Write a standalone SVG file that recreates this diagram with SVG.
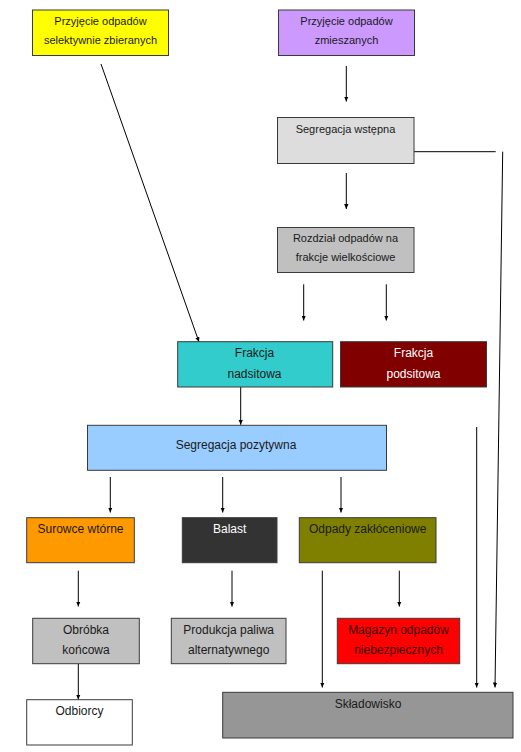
<svg xmlns="http://www.w3.org/2000/svg" width="521" height="752" viewBox="0 0 521 752">
<style>
.box{stroke:#3a3a3a;stroke-width:1}
text{font-family:"Liberation Sans",Arial,sans-serif;font-size:12px;fill:#1a1a1a;text-anchor:middle}
.s{font-size:11px}
.w{fill:#ffffff}
.dr{fill:#3a0000}
.c{stroke:#000;stroke-width:1;fill:none}
.a{marker-end:url(#ah)}
</style>
<defs>
<marker id="ah" markerUnits="userSpaceOnUse" markerWidth="5" markerHeight="5" viewBox="0 0 5 5" refX="5" refY="2.5" orient="auto">
<path d="M0,0.3 L5,2.5 L0,4.7 z" fill="#000"/>
</marker>
</defs>
<rect width="521" height="752" fill="#ffffff"/>
<g id="connectors">
<line class="c a" x1="346.3" y1="66" x2="346.3" y2="101.5"/>
<line class="c a" x1="346.3" y1="173" x2="346.3" y2="209"/>
<line class="c" x1="414" y1="151.7" x2="495.7" y2="151.7"/>
<line class="c a" x1="502.7" y1="151.7" x2="495" y2="687.5"/>
<line class="c a" x1="303.7" y1="284.3" x2="303.7" y2="320.5"/>
<line class="c a" x1="386.3" y1="284.3" x2="386.3" y2="320.5"/>
<line class="c a" x1="101" y1="64" x2="199" y2="342"/>
<line class="c a" x1="240.7" y1="387" x2="240.7" y2="424.8"/>
<line class="c a" x1="110.3" y1="477" x2="110.3" y2="512.5"/>
<line class="c a" x1="222.7" y1="477" x2="222.7" y2="512.5"/>
<line class="c a" x1="341" y1="477" x2="341" y2="512.5"/>
<line class="c a" x1="78.3" y1="570.7" x2="78.3" y2="606.5"/>
<line class="c a" x1="232" y1="570.7" x2="232" y2="606.5"/>
<line class="c a" x1="399.3" y1="570.7" x2="399.3" y2="606.5"/>
<line class="c a" x1="322.3" y1="570.7" x2="322.3" y2="687.5"/>
<line class="c a" x1="476.7" y1="427" x2="476.7" y2="687.5"/>
<line class="c a" x1="78.3" y1="663.7" x2="78.3" y2="699.5"/>
</g>
<g id="n1"><rect class="box" x="32.5" y="10" width="136" height="45.5" fill="#ffff00"/><text class="s" x="100.5" y="24.6">Przyjęcie odpadów</text><text class="s" x="100.5" y="43.6">selektywnie zbieranych</text></g>
<g id="n2"><rect class="box" x="278.5" y="10" width="136" height="45.5" fill="#cc99ff"/><text class="s" x="346.5" y="24.6">Przyjęcie odpadów</text><text class="s" x="346.5" y="43.6">zmieszanych</text></g>
<g id="n3"><rect class="box" x="277.5" y="117.5" width="136.5" height="46" fill="#dddddd"/><text class="s" x="345.5" y="132.6">Segregacja wstępna</text></g>
<g id="n4"><rect class="box" x="277.5" y="227.5" width="136.5" height="45" fill="#c0c0c0"/><text class="s" x="345.5" y="241.6">Rozdział odpadów na</text><text class="s" x="345.5" y="260.9">frakcje wielkościowe</text></g>
<g id="n5"><rect class="box" x="177.7" y="341.7" width="155" height="45.3" fill="#33cccc"/><text x="254.5" y="357">Frakcja</text><text x="254.5" y="378">nadsitowa</text></g>
<g id="n6"><rect class="box" x="340.5" y="341.7" width="146" height="45.3" fill="#800000"/><text class="w" x="413.5" y="357">Frakcja</text><text class="w" x="413.5" y="378">podsitowa</text></g>
<g id="n7"><rect class="box" x="87.5" y="425.3" width="299" height="45" fill="#99ccff"/><text x="236" y="449.3">Segregacja pozytywna</text></g>
<g id="n8"><rect class="box" x="26.7" y="517.7" width="107.6" height="45" fill="#ff9900"/><text x="80.5" y="532.6">Surowce wtórne</text></g>
<g id="n9"><rect class="box" x="182.3" y="517.7" width="94.7" height="45" fill="#333333"/><text class="w" x="229.7" y="532.6">Balast</text></g>
<g id="n10"><rect class="box" x="299.3" y="517.7" width="136.7" height="45" fill="#808000"/><text x="367.7" y="532.6">Odpady zakłóceniowe</text></g>
<g id="n11"><rect class="box" x="32.7" y="618.3" width="106.6" height="45.4" fill="#c0c0c0"/><text x="86" y="633.6">Obróbka</text><text x="86" y="654.3">końcowa</text></g>
<g id="n12"><rect class="box" x="171.3" y="618.3" width="114.7" height="45.4" fill="#c0c0c0"/><text x="228.7" y="633.6">Produkcja paliwa</text><text x="228.7" y="654.3">alternatywnego</text></g>
<g id="n13"><rect class="box" x="337.3" y="618.3" width="122.4" height="45.4" fill="#ff0000"/><text class="dr" x="398.5" y="633.6">Magazyn odpadów</text><text class="dr" x="398.5" y="654.3">niebezpiecznych</text></g>
<g id="n14"><rect class="box" x="26.7" y="699.7" width="105.6" height="45.3" fill="#ffffff"/><text x="79.5" y="715">Odbiorcy</text></g>
<g id="n15"><rect class="box" x="222.7" y="692.3" width="290.3" height="45.7" fill="#969696"/><text x="368" y="707.6">Składowisko</text></g>
</svg>
